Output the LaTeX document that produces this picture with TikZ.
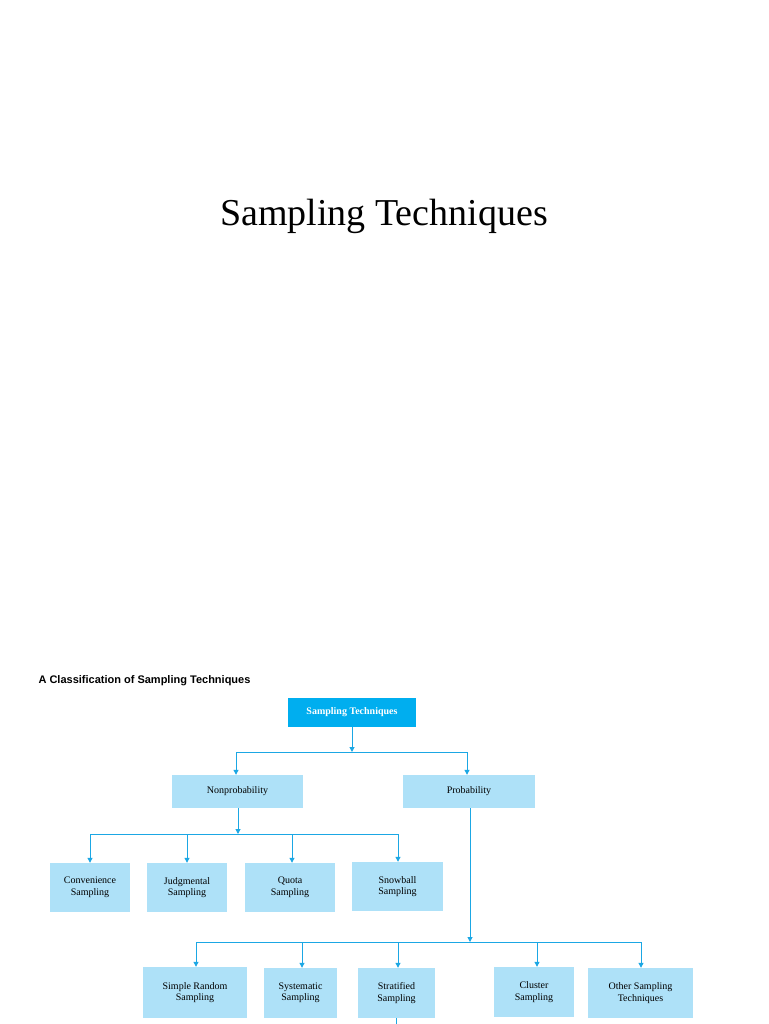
\documentclass[tikz,border=0pt]{standalone}
\usepackage{fontspec}
\setmainfont{Liberation Serif}
\newfontfamily\subfont{Liberation Sans}
\usetikzlibrary{arrows.meta}
\definecolor{dark}{HTML}{00AEEF}
\definecolor{light}{HTML}{AEE1F8}
\definecolor{ln}{HTML}{1BA7E4}
\begin{document}
\begin{tikzpicture}[x=1pt,y=-1pt,
  bx/.style={fill=light,draw=none,inner sep=0,align=center,font=\fontsize{10}{11.5}\selectfont},
  cn/.style={draw=ln,line width=1pt},
  ar/.style={cn,-{Triangle[length=5pt,width=5pt]}}]
\useasboundingbox (0,0) rectangle (768,1024);
\node[font=\fontsize{38}{40}\selectfont] (title) at (384,216) {Sampling Techniques};
\node[anchor=west,font=\subfont\bfseries\fontsize{11}{13}\selectfont] (sub) at (35,681) {A Classification of Sampling Techniques};
\newcommand{\bxn}[6]{\node[bx,minimum width=#3-#2,minimum height=#5-#4] (#1) at ({(#2+#3)/2},{(#4+#5)/2}) {#6};}
\node[fill=dark,inner sep=0,minimum width=128,minimum height=29,text=white,font=\bfseries\fontsize{10}{12}\selectfont] (root) at (352,712.5) {Sampling Techniques};
\bxn{np}{172}{303}{775}{808}{Nonprobability}
\bxn{pr}{403}{535}{775}{808}{Probability}
\bxn{cv}{50}{130}{863}{912}{Convenience\\Sampling}
\bxn{jd}{147}{227}{863}{912}{Judgmental\\Sampling}
\bxn{qt}{245}{335}{863}{912}{Quota\\Sampling}
\bxn{sb}{352}{443}{862}{911}{Snowball\\Sampling}
\bxn{sr}{143}{247}{967}{1018}{Simple Random\\Sampling}
\bxn{sy}{264}{337}{968}{1018}{Systematic\\Sampling}
\bxn{st}{358}{435}{968}{1018}{Stratified\\Sampling}
\bxn{cl}{494}{574}{967}{1017}{Cluster\\Sampling}
\bxn{ot}{588}{693}{968}{1018}{Other Sampling\\Techniques}
\coordinate (j1) at (352,752);
\coordinate (j2) at (238,834);
\coordinate (j3) at (470,942);
\draw[ar] (root.south) -- (j1);
\draw[cn] (236,752) -- (467,752);
\draw[ar] (236,752) -- (np.north -| 236,0);
\draw[ar] (467,752) -- (pr.north -| 467,0);
\draw[ar] (np.south -| j2) -- (j2);
\draw[cn] (90,834) -- (398,834);
\foreach \n/\x in {cv/90,jd/187,qt/292,sb/398} \draw[ar] (\x,834) -- (\n.north -| \x,0);
\draw[ar] (pr.south -| j3) -- (j3);
\draw[cn] (196,942) -- (641,942);
\foreach \n/\x in {sr/196,sy/302,st/398,cl/537,ot/641} \draw[ar] (\x,942) -- (\n.north -| \x,0);
\draw[cn] (st.south) -- (396.5,1024);
\end{tikzpicture}
\end{document}
